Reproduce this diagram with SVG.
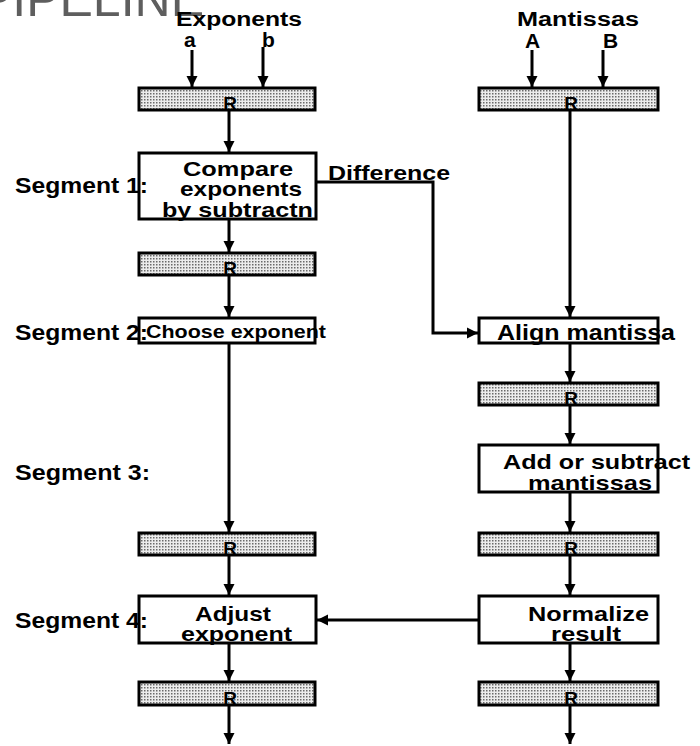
<svg xmlns="http://www.w3.org/2000/svg" width="700" height="746" viewBox="0 0 700 746">
  <defs>
    <pattern id="stipple" width="3" height="3" patternUnits="userSpaceOnUse">
      <rect width="3" height="3" fill="#ececec"/>
      <rect x="0" y="0" width="1.5" height="1.5" fill="#6a6a6a"/>
    </pattern>
    <marker id="arrow" viewBox="0 0 10 10" refX="10" refY="5" markerWidth="3.8" markerHeight="3.8" orient="auto" markerUnits="strokeWidth">
      <path d="M0,0 L10,5 L0,10 z" fill="#000"/>
    </marker>
  </defs>
  <style>
    text { font-family: "Liberation Sans", Arial, sans-serif; font-weight: bold; fill: #000; }
    .title { font-weight: normal; fill: #5e5e5e; font-size: 50px; }
    .head { font-size: 20px; }
    .inp { font-size: 21px; }
    .seg { font-size: 22px; }
    .lbl { font-size: 21px; }
    .reg rect { fill: url(#stipple); stroke: #000; stroke-width: 3; }
    .reg text { font-size: 19px; text-anchor: middle; }
    .box rect { fill: #fff; stroke: #000; stroke-width: 3; }
    .wire { fill: none; stroke: #000; stroke-width: 3; }
    .wire path, .wire line { marker-end: url(#arrow); }
  </style>

  <rect width="700" height="746" fill="#fff"/>

  <!-- page heading, clipped by the top edge -->
  <text class="title" x="204" y="16" text-anchor="end">PIPELINE</text>

  <!-- column headings and inputs -->
  <g id="inputs">
    <text class="head" x="176" y="26" textLength="126" lengthAdjust="spacingAndGlyphs">Exponents</text>
    <text class="inp" x="184" y="47">a</text>
    <text class="inp" x="262" y="47">b</text>
    <text class="head" x="517" y="26" textLength="122" lengthAdjust="spacingAndGlyphs">Mantissas</text>
    <text class="inp" x="525" y="48">A</text>
    <text class="inp" x="603" y="48">B</text>
  </g>

  <!-- connectors -->
  <g id="connectors" class="wire">
    <line x1="192" y1="50" x2="192" y2="87"/>
    <line x1="263" y1="47" x2="263" y2="87"/>
    <line x1="532" y1="50" x2="532" y2="87"/>
    <line x1="603" y1="50" x2="603" y2="87"/>

    <line x1="229" y1="110" x2="229" y2="152"/>
    <line x1="229" y1="219" x2="229" y2="252"/>
    <line x1="229" y1="275" x2="229" y2="317"/>
    <line x1="229" y1="343" x2="229" y2="532"/>
    <line x1="229" y1="555" x2="229" y2="595"/>
    <line x1="229" y1="643" x2="229" y2="681"/>
    <line x1="229" y1="705" x2="229" y2="744"/>

    <line x1="570" y1="110" x2="570" y2="317"/>
    <line x1="570" y1="343" x2="570" y2="382"/>
    <line x1="570" y1="405" x2="570" y2="444"/>
    <line x1="570" y1="492" x2="570" y2="532"/>
    <line x1="570" y1="555" x2="570" y2="595"/>
    <line x1="570" y1="643" x2="570" y2="681"/>
    <line x1="570" y1="705" x2="570" y2="744"/>

    <path d="M316,182 H433 V333 H478"/>
    <path d="M479,620 H317"/>
  </g>
  <text class="lbl" x="328" y="180" textLength="122" lengthAdjust="spacingAndGlyphs">Difference</text>

  <!-- registers -->
  <g id="reg-exp-0" class="reg"><rect x="139" y="88" width="176" height="22"/><text x="230" y="110">R</text></g>
  <g id="reg-man-0" class="reg"><rect x="479" y="88" width="179" height="22"/><text x="571" y="110">R</text></g>
  <g id="reg-exp-1" class="reg"><rect x="139" y="253" width="176" height="22"/><text x="230" y="275">R</text></g>
  <g id="reg-man-2" class="reg"><rect x="479" y="383" width="179" height="22"/><text x="571" y="405">R</text></g>
  <g id="reg-exp-3" class="reg"><rect x="139" y="533" width="176" height="22"/><text x="230" y="555">R</text></g>
  <g id="reg-man-3" class="reg"><rect x="479" y="533" width="179" height="22"/><text x="571" y="555">R</text></g>
  <g id="reg-exp-4" class="reg"><rect x="139" y="682" width="176" height="23"/><text x="230" y="705">R</text></g>
  <g id="reg-man-4" class="reg"><rect x="479" y="682" width="179" height="23"/><text x="571" y="705">R</text></g>

  <!-- processing stages -->
  <g id="compare" class="box">
    <rect x="139" y="153" width="177" height="66"/>
    <text class="lbl" x="183" y="176" textLength="110" lengthAdjust="spacingAndGlyphs">Compare</text>
    <text class="lbl" x="180" y="196" textLength="122" lengthAdjust="spacingAndGlyphs">exponents</text>
    <text class="lbl" x="162" y="217" textLength="151" lengthAdjust="spacingAndGlyphs">by subtractn</text>
  </g>
  <g id="choose" class="box">
    <rect x="139" y="318" width="176" height="25"/>
    <text x="146" y="338" font-size="18" textLength="180" lengthAdjust="spacingAndGlyphs">Choose  exponent</text>
  </g>
  <g id="align" class="box">
    <rect x="479" y="318" width="179" height="25"/>
    <text x="497" y="340" font-size="22" textLength="178" lengthAdjust="spacingAndGlyphs">Align mantissa</text>
  </g>
  <g id="addsub" class="box">
    <rect x="479" y="445" width="179" height="47"/>
    <text class="lbl" x="503" y="469" textLength="187" lengthAdjust="spacingAndGlyphs">Add or subtract</text>
    <text class="lbl" x="528" y="490" textLength="124" lengthAdjust="spacingAndGlyphs">mantissas</text>
  </g>
  <g id="adjust" class="box">
    <rect x="139" y="596" width="177" height="47"/>
    <text class="lbl" x="195" y="621" textLength="76" lengthAdjust="spacingAndGlyphs">Adjust</text>
    <text class="lbl" x="181" y="641" textLength="111" lengthAdjust="spacingAndGlyphs">exponent</text>
  </g>
  <g id="normalize" class="box">
    <rect x="479" y="596" width="179" height="47"/>
    <text class="lbl" x="528" y="621" textLength="121" lengthAdjust="spacingAndGlyphs">Normalize</text>
    <text class="lbl" x="551" y="641" textLength="70" lengthAdjust="spacingAndGlyphs">result</text>
  </g>

  <!-- segment labels, drawn over the stage boxes -->
  <g id="segments">
    <text class="seg" x="15" y="193" textLength="133" lengthAdjust="spacingAndGlyphs">Segment 1:</text>
    <text class="seg" x="15" y="340" textLength="133" lengthAdjust="spacingAndGlyphs">Segment 2:</text>
    <text class="seg" x="15" y="480" textLength="135" lengthAdjust="spacingAndGlyphs">Segment 3:</text>
    <text class="seg" x="15" y="628" textLength="133" lengthAdjust="spacingAndGlyphs">Segment 4:</text>
  </g>
</svg>
